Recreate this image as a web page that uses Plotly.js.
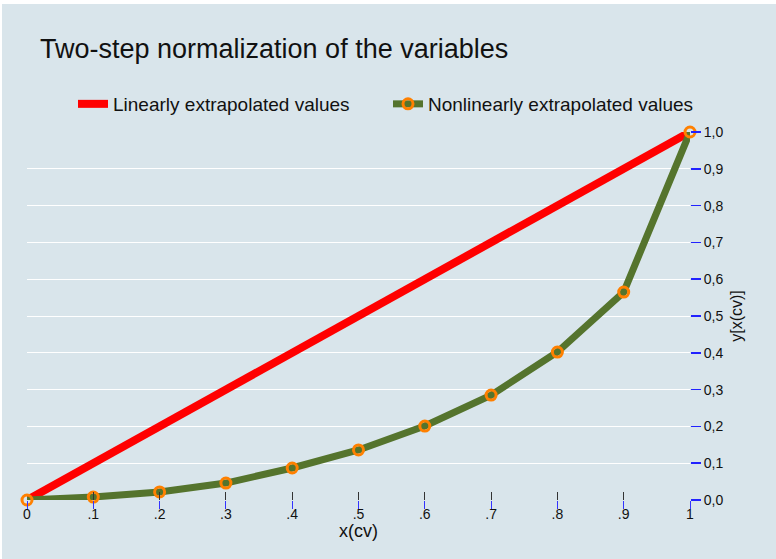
<!DOCTYPE html>
<html>
<head>
<meta charset="utf-8">
<script src="https://cdn.plot.ly/plotly-3.0.1.min.js"></script>
<style>html,body{margin:0;padding:0;background:#fff;}#chart{width:776px;height:559px;}</style>
</head>
<body>
<div id="chart"></div>
<script>
var xValues = [0, 0.1, 0.2, 0.3, 0.4, 0.5, 0.6, 0.7, 0.8, 0.9, 1];
var linearValues = [0, 0.1, 0.2, 0.3, 0.4, 0.5, 0.6, 0.7, 0.8, 0.9, 1];
var nonlinearValues = [0, 0.008, 0.022, 0.046, 0.087, 0.136, 0.201, 0.285, 0.402, 0.565, 1.0];
var xTickLabels = ["0", ".1", ".2", ".3", ".4", ".5", ".6", ".7", ".8", ".9", "1"];
var yTickVals = [0, 0.1, 0.2, 0.3, 0.4, 0.5, 0.6, 0.7, 0.8, 0.9, 1.0];
var yTickLabels = ["0,0", "0,1", "0,2", "0,3", "0,4", "0,5", "0,6", "0,7", "0,8", "0,9", "1,0"];

var font = "Liberation Sans, Arial, sans-serif";
var bg = "#d9e5eb";

var traces = [
  {
    x: xValues, y: linearValues, type: "scatter", mode: "lines",
    name: "Linearly extrapolated values",
    line: {color: "#ff0000", width: 8},
    cliponaxis: false
  },
  {
    x: xValues, y: nonlinearValues, type: "scatter", mode: "lines+markers",
    name: "Nonlinearly extrapolated values",
    line: {color: "#55742d", width: 7},
    marker: {symbol: "circle-open", size: 10, color: "#ff8000", line: {width: 3, color: "#ff8000"}},
    cliponaxis: false
  },
  {
    x: xValues, y: nonlinearValues, xaxis: "x2", type: "scatter", mode: "none",
    showlegend: false, hoverinfo: "skip"
  },
  {
    x: xValues, y: nonlinearValues, xaxis: "x3", type: "scatter", mode: "none",
    showlegend: false, hoverinfo: "skip"
  }
];

var layout = {
  width: 776, height: 559,
  paper_bgcolor: "#ffffff",
  plot_bgcolor: bg,
  margin: {l: 27, r: 86, t: 132, b: 59, pad: 0},
  font: {family: font, color: "#111111", size: 13},
  title: {text: "Two-step normalization of the variables", x: 40/776, xanchor: "left", y: 1 - 49/559, yanchor: "middle", font: {family: font, size: 27, color: "#111111"}},
  showlegend: true,
  legend: {orientation: "h", x: (73-27)/663, xanchor: "left", y: 1 + (132-104)/368, yanchor: "middle", font: {family: font, size: 19, color: "#111111"}, bgcolor: "rgba(0,0,0,0)", itemwidth: 30, entrywidth: 270, tracegroupgap: 0},
  xaxis: {
    range: [0, 1], tickmode: "array", tickvals: xValues, ticktext: xTickLabels,
    ticks: "outside", ticklen: 1, tickcolor: "rgba(0,0,0,0)", tickwidth: 1,
    showgrid: false, zeroline: false, showline: false,
    tickfont: {family: font, size: 14, color: "#111111"}
  },
  xaxis2: {
    range: [0, 1], overlaying: "x", anchor: "y", tickmode: "array", tickvals: xValues,
    ticks: "inside", ticklen: 8, tickcolor: "#333333", tickwidth: 1,
    showticklabels: false, showgrid: false, zeroline: false, showline: false
  },
  xaxis3: {
    range: [0, 1], overlaying: "x", anchor: "y", tickmode: "array", tickvals: xValues,
    ticks: "outside", ticklen: 8, tickcolor: "#3333ff", tickwidth: 1,
    showticklabels: false, showgrid: false, zeroline: false, showline: false
  },
  yaxis: {
    range: [0, 1], side: "right", tickmode: "array", tickvals: yTickVals, ticktext: yTickLabels,
    ticks: "outside", ticklen: 10, tickcolor: "#2222ff", tickwidth: 1.5,
    showgrid: true, gridcolor: "#ffffff", gridwidth: 1, zeroline: false, showline: false,
    tickfont: {family: font, size: 14, color: "#111111"},
    title: {text: "y[x(cv)]", font: {family: font, size: 16, color: "#111111"}, standoff: 8}
  },
  annotations: [
    {text: "x(cv)", xref: "paper", yref: "paper", x: (358-27)/663, y: -(531-500)/368,
     xanchor: "center", yanchor: "middle", showarrow: false,
     font: {family: font, size: 18, color: "#111111"}}
  ],
  shapes: [
    {type: "rect", xref: "paper", yref: "paper", layer: "below",
     x0: (2-27)/663, x1: (776-27)/663, y0: -59/368, y1: 1 + (132-4)/368,
     fillcolor: bg, line: {width: 0}}
  ]
};

Plotly.newPlot("chart", traces, layout, {displayModeBar: false, staticPlot: true});
</script>
</body>
</html>
